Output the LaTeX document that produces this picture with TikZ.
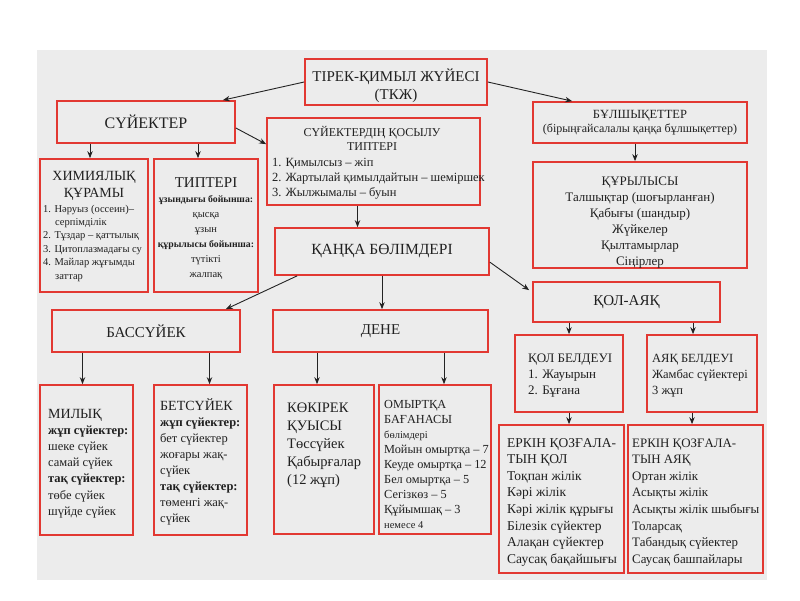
\documentclass[tikz,border=0pt]{standalone}
\usepackage{fontspec}
\setmainfont{Liberation Serif}
\usetikzlibrary{arrows.meta,fit,calc}
\definecolor{boxred}{RGB}{226,56,50}
\definecolor{bggray}{RGB}{236,236,236}
\definecolor{ink}{RGB}{32,32,32}
\definecolor{arrink}{RGB}{35,35,35}
\tikzset{
  box/.style={draw=boxred, line width=1.7pt, inner sep=0pt, text=ink},
  arr/.style={draw=arrink, line width=0.9pt, -{Stealth[length=7pt,width=5.5pt]}},
  tl/.style={inner sep=0pt, anchor=base west, align=left, text=ink},
  tc/.style={inner sep=0pt, anchor=base, align=center, text=ink},
  tm/.style={inner sep=0pt, text=ink},
}
\newcommand\fs[2]{\fontsize{#1}{#2}\selectfont}
\begin{document}
\begin{tikzpicture}[x=1pt,y=-1pt]
\useasboundingbox (0,0) rectangle (800,600);
\fill[bggray] (37,50) rectangle (767,580);

% boxes
\node[box, fit={(305,59) (487,105)}] (tkj) {};
\node[box, fit={(57,101) (235,143)}] (suyek) {};
\node[box, fit={(267,118) (480,205)}] (qosylu) {};
\node[box, fit={(533,102) (747,143)}] (bulshyq) {};
\node[box, fit={(40,159) (148,292)}] (himia) {};
\node[box, fit={(154,159) (258,292)}] (tipter) {};
\node[box, fit={(533,162) (747,268)}] (kurylys) {};
\node[box, fit={(275,228) (489,275)}] (kanka) {};
\node[box, fit={(52,310) (240,352)}] (bass) {};
\node[box, fit={(273,310) (488,352)}] (dene) {};
\node[box, fit={(533,282) (720,322)}] (kolayak) {};
\node[box, fit={(515,335) (623,412)}] (kolbel) {};
\node[box, fit={(647,335) (757,412)}] (ayakbel) {};
\node[box, fit={(40,385) (133,535)}] (milyk) {};
\node[box, fit={(154,385) (247,535)}] (bet) {};
\node[box, fit={(274,385) (374,534)}] (kokirek) {};
\node[box, fit={(379,385) (491,534)}] (omyrtka) {};
\node[box, fit={(499,425) (624,573)}] (erkinkol) {};
\node[box, fit={(628,425) (763,573)}] (erkinayak) {};

% texts (base anchor = baseline of the LAST line)
\node[tc, font=\fs{15}{18}] (ttkj) at (396,99) {ТІРЕК-ҚИМЫЛ ЖҮЙЕСІ\\(ТКЖ)};
\node[tm, font=\fs{16}{19}] (tsuyek) at (suyek.center) {СҮЙЕКТЕР};
\node[tc, font=\fs{12}{14.5}] (tqos1) at (372,150.5) {СҮЙЕКТЕРДІҢ ҚОСЫЛУ\\ТИПТЕРІ};
\node[tl, font=\fs{12.5}{15}] (tqos2) at (272,196) {1. Қимылсыз – жіп\\2. Жартылай қимылдайтын – шеміршек\\3. Жылжымалы – буын};
\node[tc, font=\fs{12.5}{15}] (tbul1) at (640,118) {БҰЛШЫҚЕТТЕР};
\node[tc, font=\fs{12}{14}] (tbul2) at (640,132) {(бірыңғайсалалы қаңқа бұлшықеттер)};
\node[tc, font=\fs{14}{17}] (thim1) at (94,197) {ХИМИЯЛЫҚ\\ҚҰРАМЫ};
\node[tl, font=\fs{10.5}{13.4}] (thim2) at (43,279) {1. Нәруыз (оссеин)–\\\hspace*{12pt}серпімділік\\2. Тұздар – қаттылық\\3. Цитоплазмадағы су\\4. Майлар жұғымды\\\hspace*{12pt}заттар};
\node[tc, font=\fs{15}{18}] (ttip1) at (206,187) {ТИПТЕРІ};
\node[tc, font=\fs{10.5}{15}] (ttip2) at (206,277) {{\fs{9.8}{15}\textbf{ұзындығы бойынша:}}\\қысқа\\ұзын\\{\fs{9.8}{15}\textbf{құрылысы бойынша:}}\\түтікті\\жалпақ};
\node[tc, font=\fs{13}{16}] (tkur) at (640,265) {ҚҰРЫЛЫСЫ\\Талшықтар (шоғырланған)\\Қабығы (шандыр)\\Жүйкелер\\Қылтамырлар\\Сіңірлер};
\node[tm, font=\fs{15.5}{18}] (tkanka) at (kanka.center) {ҚАҢҚА БӨЛІМДЕРІ};
\node[tm, font=\fs{15}{18}] (tbass) at (bass.center) {БАССҮЙЕК};
\node[tm, font=\fs{15}{18}] (tdene) at (dene.center) {ДЕНЕ};
\node[tm, font=\fs{15}{18}] (tkolayak) at (kolayak.center) {ҚОЛ-АЯҚ};
\node[tl, font=\fs{13}{16}] (tkolbel) at (528,394) {ҚОЛ БЕЛДЕУІ\\1. Жауырын\\2. Бұғана};
\node[tl, font=\fs{12.5}{16}] (tayakbel) at (652,394) {АЯҚ БЕЛДЕУІ\\Жамбас сүйектері\\3 жұп};
\node[tl, font=\fs{12.5}{16.2}] (tmilyk) at (48,515.2) {{\fs{14}{16.2}МИЛЫҚ}\\\textbf{жұп сүйектер:}\\шеке сүйек\\самай сүйек\\\textbf{тақ сүйектер:}\\төбе сүйек\\шүйде сүйек};
\node[tl, font=\fs{12.5}{16}] (tbet) at (160,522) {{\fs{14}{16}БЕТСҮЙЕК}\\\textbf{жұп сүйектер:}\\бет сүйектер\\жоғары жақ-\\сүйек\\\textbf{тақ сүйектер:}\\төменгі жақ-\\сүйек};
\node[tl, font=\fs{14.5}{18}] (tkok) at (287,484) {КӨКІРЕК\\ҚУЫСЫ\\Төссүйек\\Қабырғалар\\(12 жұп)};
\node[tl, font=\fs{12.3}{15}] (tomy) at (384,528) {ОМЫРТҚА\\БАҒАНАСЫ\\{\fs{10.5}{15}бөлімдері}\\Мойын омыртқа – 7\\Кеуде омыртқа – 12\\Бел омыртқа – 5\\Сегізкөз – 5\\Құйымшақ – 3\\{\fs{10.5}{15}немесе 4}};
\node[tl, font=\fs{13.5}{16.6}] (tek) at (507,563.2) {ЕРКІН ҚОЗҒАЛА-\\ТЫН ҚОЛ\\Тоқпан жілік\\Кәрі жілік\\Кәрі жілік құрығы\\Білезік сүйектер\\Алақан сүйектер\\Саусақ бақайшығы};
\node[tl, font=\fs{12.9}{16.6}] (tea) at (632,563.2) {ЕРКІН ҚОЗҒАЛА-\\ТЫН АЯҚ\\Ортан жілік\\Асықты жілік\\Асықты жілік шыбығы\\Толарсақ\\Табандық сүйектер\\Саусақ башпайлары};

% arrows
\draw[arr] (tkj.west) -- ([xshift=-13pt]suyek.north east);
\draw[arr] (tkj.east) -- ([xshift=40pt]bulshyq.north west);
\draw[arr] ([yshift=-6pt]suyek.east) -- ([yshift=-27pt]qosylu.north west);
\draw[arr] ([xshift=-4pt]himia.north |- suyek.south) -- ([xshift=-4pt]himia.north);
\draw[arr] ([xshift=-8pt]tipter.north |- suyek.south) -- ([xshift=-8pt]tipter.north);
\draw[arr] ([xshift=-5pt]bulshyq.south) -- ([xshift=-5pt]bulshyq.south |- kurylys.north);
\draw[arr] ([xshift=-16pt]qosylu.south) -- ([xshift=-16pt]qosylu.south |- kanka.north);
\draw[arr] ([xshift=23pt]kanka.south west) -- ([xshift=-15pt]bass.north east);
\draw[arr] (kanka.south) -- (kanka.south |- dene.north);
\draw[arr] ([yshift=-35pt]kanka.north east) -- ([xshift=-3pt,yshift=-9pt]kolayak.north west);
\draw[arr] ([xshift=-4pt]milyk.north |- bass.south) -- ([xshift=-4pt]milyk.north);
\draw[arr] ([xshift=9pt]bet.north |- bass.south) -- ([xshift=9pt]bet.north);
\draw[arr] ([xshift=-7pt]kokirek.north |- dene.south) -- ([xshift=-7pt]kokirek.north);
\draw[arr] ([xshift=9pt]omyrtka.north |- dene.south) -- ([xshift=9pt]omyrtka.north);
\draw[arr] (kolbel.north |- kolayak.south) -- (kolbel.north);
\draw[arr] ([xshift=-9pt]ayakbel.north |- kolayak.south) -- ([xshift=-9pt]ayakbel.north);
\draw[arr] (kolbel.south) -- (kolbel.south |- erkinkol.north);
\draw[arr] ([xshift=-10pt]ayakbel.south) -- ([xshift=-10pt]ayakbel.south |- erkinayak.north);
\end{tikzpicture}
\end{document}
